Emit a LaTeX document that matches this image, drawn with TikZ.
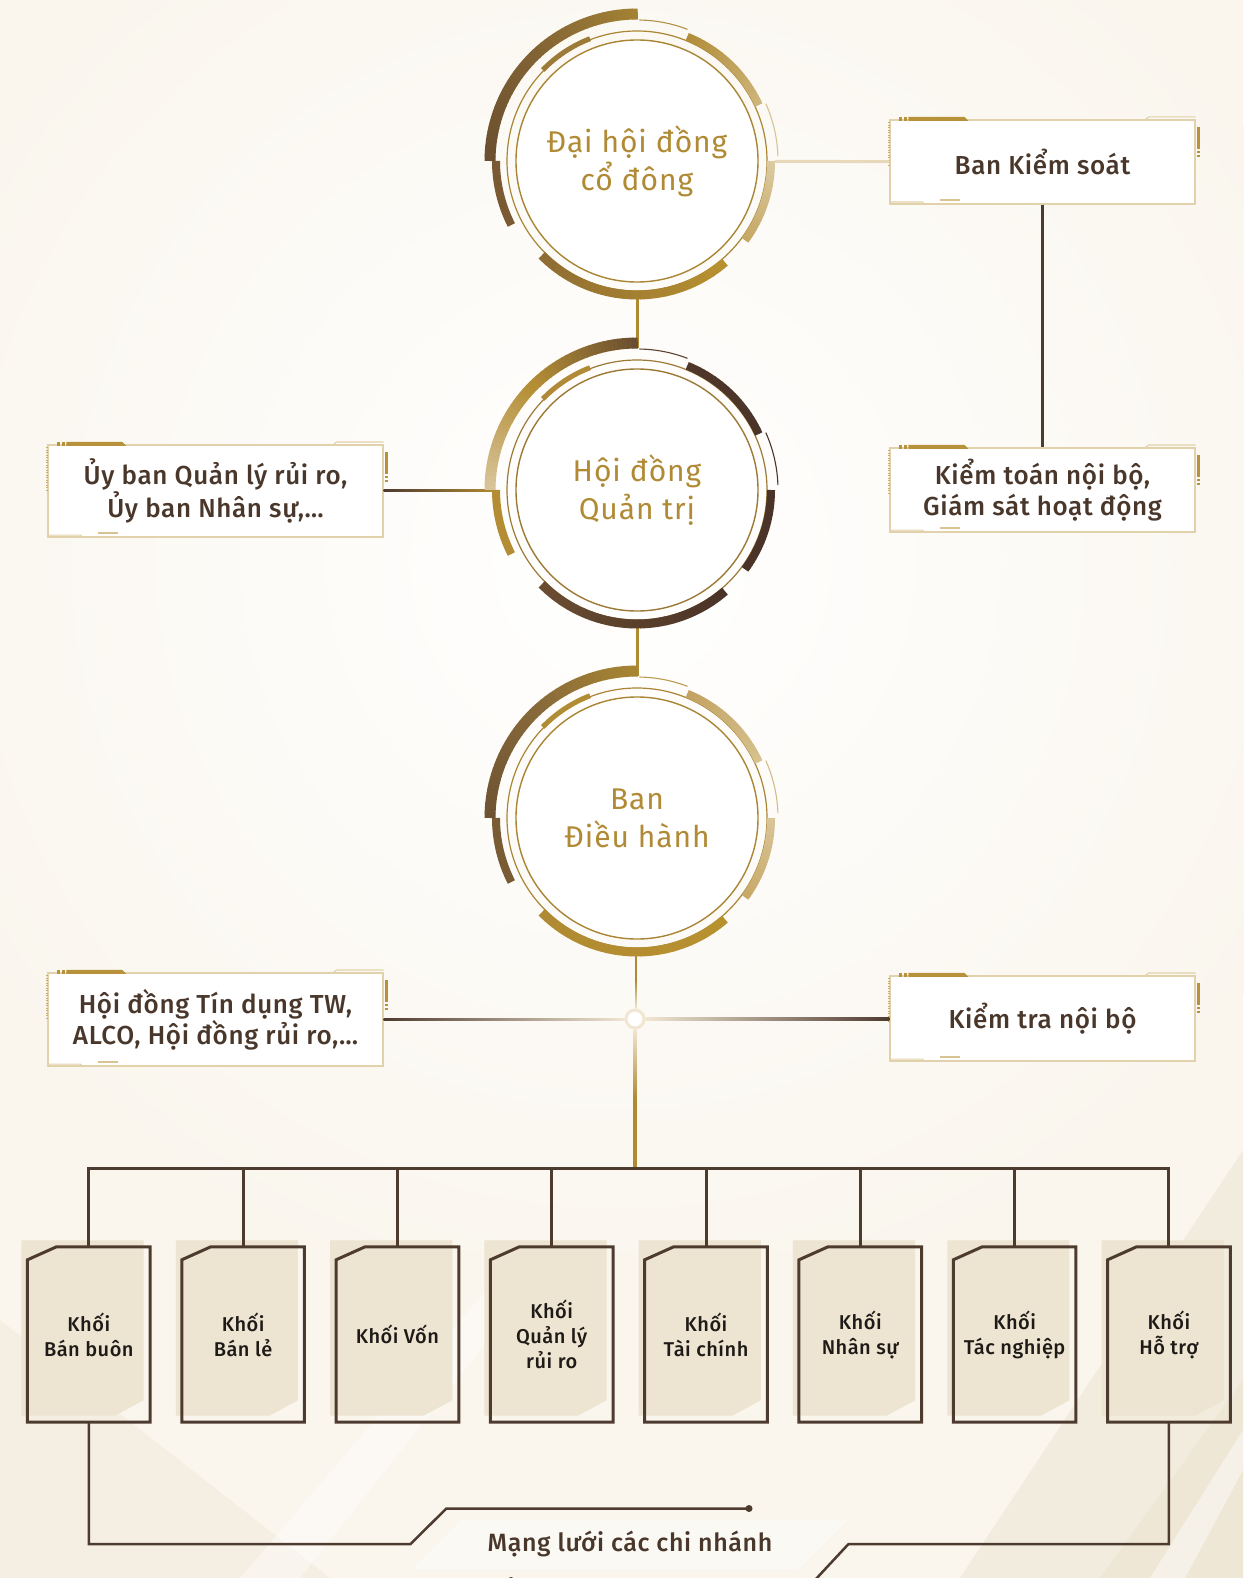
\documentclass[tikz,border=0pt]{standalone}
\usepackage{fontspec}
\setmainfont{Fira Sans}
\newfontfamily\circfont{Fira Sans}[LetterSpace=3]
\newfontfamily\medfont{Fira Sans Medium}[LetterSpace=2.5]
\usetikzlibrary{calc}
\pgfdeclarelayer{bgl}
\pgfdeclarelayer{back}
\pgfsetlayers{bgl,back,main}
\definecolor{bgc}{HTML}{FAF6EE}
\definecolor{goldc}{HTML}{B08A32}
\definecolor{goldt}{HTML}{B08A34}
\definecolor{brownc}{HTML}{4E3B30}
\definecolor{creamc}{HTML}{F0E6D2}
\definecolor{linecream}{HTML}{E6D8B8}
\definecolor{framec}{HTML}{E2D2AB}
\definecolor{barc}{HTML}{B8923A}
\definecolor{boxfillc}{HTML}{EDE4D1}
\definecolor{textd}{HTML}{4A372B}
\definecolor{textk}{HTML}{1E1A17}
\definecolor{labelc}{HTML}{FBF9F4}
% circle 1
\definecolor{raAa}{HTML}{6B4F2F}\definecolor{raAm}{HTML}{806234}\definecolor{raAb}{HTML}{A38234}
\definecolor{raB}{HTML}{7A5A33}\definecolor{raC}{HTML}{9C7B38}\definecolor{raT}{HTML}{B39048}
\definecolor{raDa}{HTML}{B28E3A}\definecolor{raDb}{HTML}{CDB479}\definecolor{raTt}{HTML}{D6C496}
\definecolor{raEa}{HTML}{DCCAA0}\definecolor{raEb}{HTML}{C6A865}
\definecolor{raFa}{HTML}{8E6C33}\definecolor{raFb}{HTML}{B8912F}\definecolor{raR}{HTML}{A98534}
% circle 2
\definecolor{rbAa}{HTML}{D8C49A}\definecolor{rbAm}{HTML}{B48E35}\definecolor{rbAb}{HTML}{6A4E30}
\definecolor{rbB}{HTML}{B38C34}\definecolor{rbC}{HTML}{B08A36}\definecolor{rbT}{HTML}{5B4231}
\definecolor{rbDa}{HTML}{4F382A}\definecolor{rbDb}{HTML}{4A3428}\definecolor{rbTt}{HTML}{4A3428}
\definecolor{rbEa}{HTML}{4A3428}\definecolor{rbEb}{HTML}{4A3428}
\definecolor{rbFa}{HTML}{6A4C30}\definecolor{rbFb}{HTML}{4A3428}\definecolor{rbR}{HTML}{9C7A36}
% circle 3
\definecolor{rcAa}{HTML}{6E5232}\definecolor{rcAm}{HTML}{86683A}\definecolor{rcAb}{HTML}{A88532}
\definecolor{rcB}{HTML}{7A5C34}\definecolor{rcC}{HTML}{B08C34}\definecolor{rcT}{HTML}{BC9A50}
\definecolor{rcDa}{HTML}{C4A262}\definecolor{rcDb}{HTML}{D6C28E}\definecolor{rcTt}{HTML}{D2BC8A}
\definecolor{rcEa}{HTML}{D9C598}\definecolor{rcEb}{HTML}{C8A968}
\definecolor{rcFa}{HTML}{B08A32}\definecolor{rcFb}{HTML}{B8912F}\definecolor{rcR}{HTML}{A98534}

\tikzset{
  ringnode/.style={circle, draw=#1, line width=1.4, fill=white, minimum size=242, inner sep=0,
    align=center, text=goldt, font=\circfont\fontsize{30}{38}\selectfont},
  infobox/.style={draw=framec, line width=1.2, fill=white, inner sep=0, align=center,
    text=textd, font=\medfont\fontsize{26}{31}\selectfont},
  kbox/.style={inner sep=0, minimum width=122.3, minimum height=175, align=center,
    text=textk, font=\medfont\fontsize{20}{25}\selectfont},
  busline/.style={draw=brownc, line width=3},
  netline/.style={draw=brownc, line width=2.5},
}

% gradient arc: center, radius, a1, a2, width, colA, colB
\newcommand\garc[7]{%
  \foreach \gi in {0,...,23}{%
    \pgfmathsetmacro\gsa{#3+(#4-#3)*\gi/24}%
    \pgfmathsetmacro\gsb{#3+(#4-#3)*(\gi+1)/24+0.3}%
    \pgfmathtruncatemacro\gpc{100*\gi/23}%
    \draw[line width=#5, color=#7!\gpc!#6] (#1) ++(\gsa:#2) arc[start angle=\gsa, end angle=\gsb, radius=#2];
  }%
}
\newcommand\ringdeco[2]{%
  \draw[#2R, line width=1.2] (#1.center) circle[radius=130];
  \garc{#1.center}{147}{180}{225}{11}{#2Aa}{#2Am}
  \garc{#1.center}{147}{225}{270}{11}{#2Am}{#2Ab}
  \draw[#2B, line width=8] (#1.center) ++(153:141) arc[start angle=153, end angle=180, radius=141];
  \draw[#2C, line width=5] (#1.center) ++(224:131) arc[start angle=224, end angle=249, radius=131];
  \draw[#2T, line width=1.1] (#1.center) ++(271:141) arc[start angle=271, end angle=291, radius=141];
  \garc{#1.center}{134}{292}{335}{8}{#2Da}{#2Db}
  \draw[#2Tt, line width=1.1] (#1.center) ++(336:141) arc[start angle=336, end angle=358, radius=141];
  \garc{#1.center}{134}{0}{36}{8}{#2Ea}{#2Eb}
  \garc{#1.center}{134}{49}{135}{9}{#2Fb}{#2Fa}
}
\newcommand\boxdeco[1]{%
  \fill[barc] ($(#1.north west)+(19,-2.5)$) -- ($(#1.north west)+(75,-2.5)$) -- ($(#1.north west)+(79,1.5)$) -- ($(#1.north west)+(19,1.5)$) -- cycle;
  \fill[barc] ($(#1.north west)+(10,-2.5)$) rectangle ++(3,4);
  \fill[barc] ($(#1.north west)+(15,-2.5)$) rectangle ++(3,4);
  \draw[barc!75, line width=2, dash pattern=on 1pt off 1.5pt] ($(#1.north west)+(0,3)$) -- ($(#1.north west)+(0,48)$);
  \fill[barc] ($(#1.north east)+(1,8)$) rectangle ($(#1.north east)+(4,30)$);
  \fill[barc] ($(#1.north east)+(1,32)$) rectangle ++(3,2);
  \fill[barc] ($(#1.north east)+(1,35.5)$) rectangle ++(3,2.5);
  \draw[barc!55, line width=2] ($(#1.south west)+(51,-5)$) -- ++(20,0);
  \draw[framec, line width=1.2] ($(#1.north east)+(-50,0)$) -- ++(3,-2.5) -- ($(#1.north east)+(0,-2.5)$);
  \draw[framec, line width=1.2] ($(#1.south west)+(0,-2.5)$) -- ++(33,0) -- ++(2.5,2.5);
}
\newcommand\kdeco[1]{%
  \begin{pgfonlayer}{back}
  \fill[boxfillc] ($(#1.north west)+(-6,-6.5)$) -- ($(#1.north east)+(-6.5,-6.5)$) -- ($(#1.south east)+(-6.5,-22)$) -- ($(#1.south east)+(-35,-6.5)$) -- ($(#1.south west)+(-6,-6.5)$) -- cycle;
  \end{pgfonlayer}
  \draw[brownc, line width=3, line join=miter] ($(#1.north west)+(0,13)$) -- ($(#1.north west)+(29,0)$) -- (#1.north east) -- (#1.south east) -- (#1.south west) -- cycle;
}

\begin{document}
\begin{tikzpicture}[x=1pt, y=-1pt]
\useasboundingbox (0,0) rectangle (1243,1578);
\begin{pgfonlayer}{bgl}
  \fill[bgc] (0,0) rectangle (1243,1578);
  \shade[inner color=white, outer color=bgc] (620,560) circle[radius=760];
  \fill[bgc] (0,1250) rectangle (1243,1578);
  \fill[boxfillc, opacity=0.55] (1243,1150) -- (1243,1578) -- (960,1578) -- cycle;
  \fill[boxfillc, opacity=0.6] (1243,1380) -- (1243,1578) -- (1100,1578) -- cycle;
  \fill[white, opacity=0.45] (1243,1430) -- (1243,1470) -- (1185,1578) -- (1150,1578) -- cycle;
  \fill[boxfillc, opacity=0.35] (0,1320) -- (330,1578) -- (0,1578) -- cycle;
  \fill[white, opacity=0.4] (240,1578) -- (520,1250) -- (560,1250) -- (300,1578) -- cycle;
\end{pgfonlayer}

% circles
\node[ringnode=raR] (c1) at (637,161) {Đại hội đồng\\cổ đông};
\node[ringnode=rbR] (c2) at (637,490) {Hội đồng\\Quản trị};
\node[ringnode=rcR] (c3) at (637,818) {Ban\\Điều hành};

% info boxes
\node[infobox, minimum width=305, minimum height=84] (bks) at (1042.5,162) {Ban Kiểm soát};
\node[infobox, minimum width=305, minimum height=84] (kt) at (1042.5,490) {Kiểm toán nội bộ,\\Giám sát hoạt động};
\node[infobox, minimum width=335, minimum height=92] (uy) at (215.5,491) {Ủy ban Quản lý rủi ro,\\Ủy ban Nhân sự,…};
\node[infobox, minimum width=335, minimum height=93] (hdtd) at (215.5,1019.5) {Hội đồng Tín dụng TW,\\ALCO, Hội đồng rủi ro,…};
\node[infobox, minimum width=305, minimum height=85] (ktra) at (1042.5,1018.5) {Kiểm tra nội bộ};
\boxdeco{bks}\boxdeco{kt}\boxdeco{uy}\boxdeco{hdtd}\boxdeco{ktra}

% junction
\node[circle, draw=creamc, line width=3, fill=white, minimum size=18, inner sep=0] (jn) at (635,1019) {};
\coordinate (bus) at (635,1168);

% bottom boxes
\node[kbox] (k1) at (88.8,1334.5) {Khối\\Bán buôn};
\node[kbox] (k2) at (243.1,1334.5) {Khối\\Bán lẻ};
\node[kbox] (k3) at (397.4,1334.5) {Khối Vốn};
\node[kbox] (k4) at (551.7,1334.5) {Khối\\Quản lý\\rủi ro};
\node[kbox] (k5) at (706.0,1334.5) {Khối\\Tài chính};
\node[kbox] (k6) at (860.3,1334.5) {Khối\\Nhân sự};
\node[kbox] (k7) at (1014.6,1334.5) {Khối\\Tác nghiệp};
\node[kbox] (k8) at (1168.9,1334.5) {Khối\\Hỗ trợ};
\foreach \k in {k1,k2,k3,k4,k5,k6,k7,k8}{\kdeco{\k}}

% label
\node[inner sep=0, text=textd, font=\medfont\fontsize{25}{28}\selectfont] (mang) at (630,1544.3) {Mạng lưới các chi nhánh};
\begin{pgfonlayer}{back}
  \fill[labelc] ($(mang)+(-168.3,-25)$) -- ($(mang)+(218.3,-25)$) -- ($(mang)+(168.3,25)$) -- ($(mang)+(-218.3,25)$) -- cycle;
\end{pgfonlayer}

% connectors
\draw[linecream, line width=3, shorten <=16] (c1) -- (bks);
\draw[brownc, line width=2.5] (bks.south) -- (kt.north);
\draw[goldc, line width=3, shorten <=12, shorten >=20] (c1) -- (c2);
\draw[goldc, line width=3, shorten <=12, shorten >=20] (c2) -- (c3);
\shade[left color=brownc, right color=goldc] ($(uy.east)+(0,-1.5)$) rectangle ($(c2.west)+(-20,1.5)$);
\shade[top color=goldc, bottom color=creamc, middle color=goldc] ($(c3.south)+(-1.5,12)$) rectangle ($(jn.north)+(1.5,0)$);
\shade[left color=brownc, middle color=goldc, right color=creamc] ($(hdtd.east)+(0,-1.5)$) rectangle ($(jn.west)+(0,1.5)$);
\shade[left color=creamc, middle color=goldc, right color=brownc] ($(jn.east)+(0,-1.5)$) rectangle ($(ktra.west)+(0,1.5)$);
\shade[top color=creamc, bottom color=goldc, middle color=goldc] ($(jn.south)+(-1.5,0)$) rectangle ($(jn.south |- bus)+(1.5,-1)$);

\draw[busline, line join=miter] (k1.north) -- (k1.north |- bus) -- (k8.north |- bus) -- (k8.north);
\foreach \k in {k2,k3,k4,k5,k6,k7}{\draw[busline] (\k.north |- bus) -- (\k.north);}

% branch network
\coordinate (netL) at (410.6,1544);
\coordinate (netLu) at (446.3,1508.5);
\coordinate (netDot) at (749,1508.5);
\coordinate (netR) at (848.5,1544);
\coordinate (netRe) at (815,1580);
\draw[netline, line join=miter] (k1.south) -- (k1.south |- netL) -- (netL) -- (netLu) -- (netDot);
\fill[brownc] (netDot) circle[radius=3.5];
\draw[netline, line join=miter] (k8.south) -- (k8.south |- netR) -- (netR) -- (netRe);
\fill[brownc] (511,1581) circle[radius=4];

% ring decorations
\ringdeco{c1}{ra}
\ringdeco{c2}{rb}
\ringdeco{c3}{rc}
\end{tikzpicture}
\end{document}
